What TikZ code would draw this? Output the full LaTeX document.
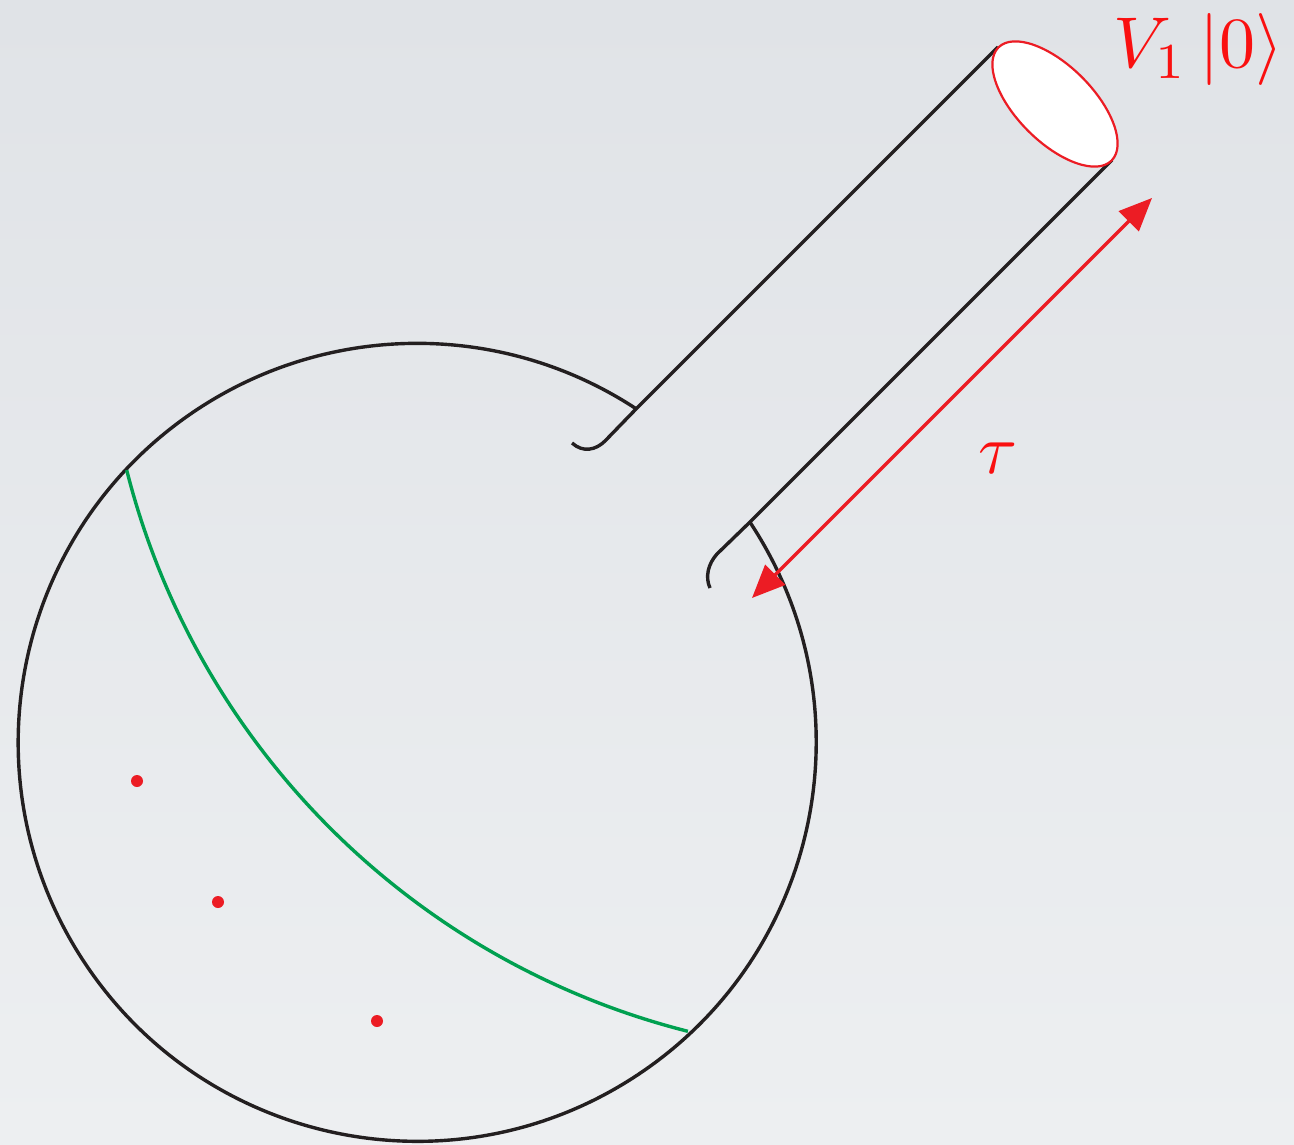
\documentclass[tikz,border=0pt]{standalone}
\usepackage{graphicx}
\usetikzlibrary{arrows.meta}
\definecolor{bgtop}{RGB}{224,227,231}
\definecolor{bgbot}{RGB}{237,239,241}
\definecolor{ink}{RGB}{35,31,32}
\definecolor{redA}{RGB}{236,28,36}
\definecolor{greenA}{RGB}{0,160,80}
\definecolor{labred}{RGB}{250,16,16}
\begin{document}
\begin{tikzpicture}[x=1pt,y=-1pt,
  outline/.style={draw=ink, line width=3.4pt},
  geod/.style={draw=greenA, line width=3.4pt},
  redarrow/.style={draw=redA, line width=3.2pt,
    {Triangle[length=33pt,width=28pt]}-{Triangle[length=33pt,width=28pt]}},
  mouth/.style={draw=redA, fill=white, line width=2.2pt},
  puncture/.style={fill=redA},
  lab/.style={text=labred, inner sep=0pt}]
\shade[top color=bgtop, bottom color=bgbot] (0,0) rectangle (1294,1145);
\useasboundingbox (0,0) rectangle (1294,1145);

% named points
\coordinate (C) at (417,742);
\coordinate (U1) at (998,47);
\coordinate (U2) at (636.3,408.7);
\coordinate (U3) at (605,441);
\coordinate (U4) at (572,443);
\coordinate (L1) at (1112,160);
\coordinate (L2) at (749.9,522.1);
\coordinate (L3) at (717,554);
\coordinate (L4) at (710,588);
\coordinate (G1) at (126.7,470.1);
\coordinate (A1) at (752,598);
\coordinate (A2) at (1152,198);
\coordinate (M) at (1055,104);

% disc boundary (with gap for the tube)
\draw[outline] (L2) arc[start angle=-33.5, end angle=303.4, radius=399];

% tube
\draw[outline] (U1) -- (U2) -- (U3) .. controls (596,450) and (583,453) .. (U4);
\draw[outline] (L1) -- (L2) -- (L3) .. controls (708,564) and (705,577) .. (L4);

% mouth of the tube
\draw[mouth, shift={(M)}, rotate=-45] (0,0) ellipse [x radius=80pt, y radius=38pt];

% geodesic
\draw[geod] (G1) arc[start angle=165.8, end angle=104.2, radius=775];

% punctures
\fill[puncture] (137,781) circle (6);
\fill[puncture] (218,902) circle (6);
\fill[puncture] (377,1021) circle (6);

% length arrow
\draw[redarrow] (A1) -- (A2);

% labels
\node[lab, anchor=base west] (tau) at (978,473) {\scalebox{7.1}{$\tau$}};
\node[lab, anchor=base west] (state) at (1113,68) {\scalebox{7.2}{$V_1\left|0\right\rangle$}};
\end{tikzpicture}
\end{document}
